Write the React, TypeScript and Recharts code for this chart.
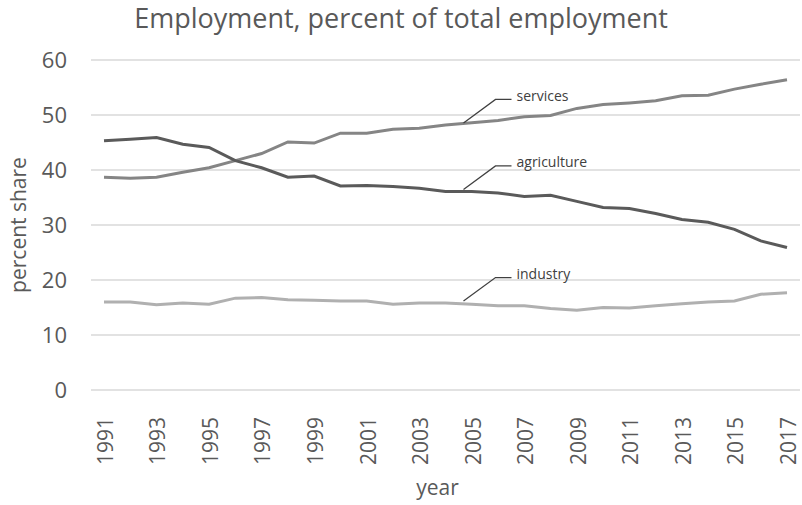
import React from 'react';
import { LineChart, Line, XAxis, YAxis, CartesianGrid, LabelList } from 'recharts';

const years = [
  1991, 1992, 1993, 1994, 1995, 1996, 1997, 1998, 1999, 2000, 2001, 2002, 2003, 2004,
  2005, 2006, 2007, 2008, 2009, 2010, 2011, 2012, 2013, 2014, 2015, 2016, 2017,
];
const agriculture = [
  45.3, 45.6, 45.9, 44.7, 44.1, 41.7, 40.4, 38.7, 38.9, 37.1, 37.2, 37.0, 36.7, 36.1,
  36.1, 35.8, 35.2, 35.4, 34.3, 33.2, 33.0, 32.1, 31.0, 30.5, 29.2, 27.1, 25.9,
];
const services = [
  38.7, 38.5, 38.7, 39.6, 40.4, 41.7, 43.0, 45.1, 44.9, 46.7, 46.7, 47.4, 47.6, 48.2,
  48.6, 49.0, 49.7, 49.9, 51.2, 51.9, 52.2, 52.6, 53.5, 53.6, 54.7, 55.6, 56.4,
];
const industry = [
  16.0, 16.0, 15.5, 15.8, 15.6, 16.7, 16.8, 16.4, 16.3, 16.2, 16.2, 15.6, 15.8, 15.8,
  15.6, 15.3, 15.3, 14.8, 14.5, 15.0, 14.9, 15.3, 15.7, 16.0, 16.2, 17.4, 17.7,
];
const yTicks = [0, 10, 20, 30, 40, 50, 60];
const labelYear = 2004;

const data = years.map((y, i) => ({
  year: String(y),
  agriculture: agriculture[i],
  services: services[i],
  industry: industry[i],
}));

const FONT = '"Open Sans", sans-serif';
const GREY = '#595959';

const XTick = (props: any) => {
  const { x, y, payload } = props;
  return (
    <g transform={`translate(${x},${y})`}>
      <text
        transform="rotate(-90)"
        x={-19}
        y={0}
        dy="0.42em"
        textAnchor="end"
        fill={GREY}
        fontSize={21}
        fontFamily={FONT}
      >
        {payload.value}
      </text>
    </g>
  );
};

const YLabel = (props: any) => {
  const { viewBox } = props;
  const cx = 18;
  const cy = viewBox.y + viewBox.height / 2;
  return (
    <text
      x={cx}
      y={cy}
      transform={`rotate(-90, ${cx}, ${cy})`}
      textAnchor="middle"
      dominantBaseline="central"
      fill={GREY}
      fontSize={21}
      fontFamily={FONT}
    >
      percent share
    </text>
  );
};

// leader line + series name, drawn at the labelYear point
const seriesTag = (name: string) => (props: any) => {
  const { x, y, index } = props;
  if (years[index] !== labelYear) return null;
  const ax = x + 18;
  const ay = y - 2;
  const ex = ax + 32;
  const ey = ay - 23.5;
  return (
    <g>
      <polyline
        points={`${ax},${ay} ${ex},${ey} ${ex + 16},${ey}`}
        fill="none"
        stroke="#404040"
        strokeWidth={1.3}
      />
      <text
        x={ex + 21}
        y={ey - 4}
        dominantBaseline="central"
        fill="#404040"
        fontSize={14}
        fontFamily={FONT}
      >
        {name}
      </text>
    </g>
  );
};

export default function App() {
  return (
    <div style={{ position: 'absolute', left: 0, top: 0, width: 802, height: 505, background: '#fff' }}>
      <div
        style={{
          position: 'absolute',
          left: 0,
          top: 4,
          width: 802,
          textAlign: 'center',
          fontFamily: FONT,
          fontSize: 27,
          lineHeight: '27px',
          color: GREY,
        }}
      >
        Employment, percent of total employment
      </div>
      <LineChart
        width={802}
        height={505}
        data={data}
        margin={{ top: 60, right: 2, left: 0, bottom: 0 }}
      >
        <CartesianGrid vertical={false} stroke="#d9d9d9" strokeWidth={1.3} />
        <XAxis
          dataKey="year"
          interval={1}
          height={115}
          padding={{ left: 13, right: 13 }}
          axisLine={false}
          tickLine={false}
          tick={<XTick />}
          label={{ value: 'year', position: 'insideBottom', offset: 10, dx: -8, fill: GREY, fontSize: 21, fontFamily: FONT }}
        />
        <YAxis
          domain={[0, 60]}
          ticks={yTicks}
          width={91}
          axisLine={false}
          tickLine={false}
          tickSize={0}
          tickMargin={24}
          tick={{ fill: GREY, fontSize: 22, fontFamily: FONT }}
          label={<YLabel />}
        />
        <Line
          dataKey="industry"
          stroke="#b0b0b0"
          strokeWidth={3}
          dot={false}
          isAnimationActive={false}
        >
          <LabelList dataKey="industry" content={seriesTag('industry')} />
        </Line>
        <Line
          dataKey="services"
          stroke="#858585"
          strokeWidth={3}
          dot={false}
          isAnimationActive={false}
        >
          <LabelList dataKey="services" content={seriesTag('services')} />
        </Line>
        <Line
          dataKey="agriculture"
          stroke="#5a5a5a"
          strokeWidth={3}
          dot={false}
          isAnimationActive={false}
        >
          <LabelList dataKey="agriculture" content={seriesTag('agriculture')} />
        </Line>
      </LineChart>
    </div>
  );
}
